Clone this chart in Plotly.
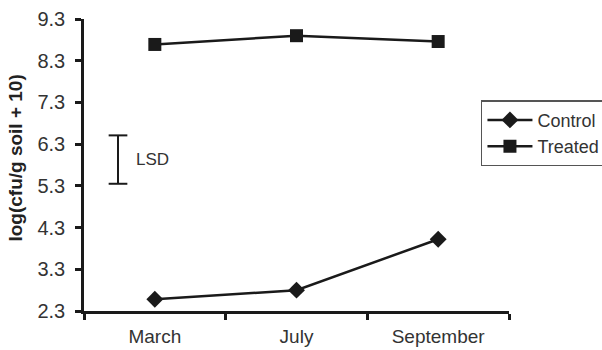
import plotly.graph_objects as go

months = ["March", "July", "September"]
control = [2.58, 2.80, 4.02]
treated = [8.69, 8.90, 8.76]
y_ticks = [2.3, 3.3, 4.3, 5.3, 6.3, 7.3, 8.3, 9.3]
lsd_low, lsd_high = 5.35, 6.51
y_title = "log(cfu/g soil + 10)"

FONT = "Liberation Sans, Arial, sans-serif"
INK = "#1a1a1a"

fig = go.Figure()
fig.add_trace(go.Scatter(
    x=months, y=control, name="Control", mode="lines+markers",
    line=dict(color=INK, width=2.5),
    marker=dict(symbol="diamond", size=13, color=INK),
))
fig.add_trace(go.Scatter(
    x=months, y=treated, name="Treated", mode="lines+markers",
    line=dict(color=INK, width=2.5),
    marker=dict(symbol="square", size=13, color=INK),
))

# LSD bar
lx = 0.08
cap = 0.022
for y0, y1, x0, x1 in [
    (lsd_low, lsd_high, lx, lx),
    (lsd_low, lsd_low, lx - cap, lx + cap),
    (lsd_high, lsd_high, lx - cap, lx + cap),
]:
    fig.add_shape(type="line", xref="paper", yref="y", x0=x0, x1=x1, y0=y0, y1=y1,
                  line=dict(color=INK, width=2))
fig.add_annotation(xref="paper", yref="y", x=0.118, y=(lsd_low + lsd_high) / 2,
                   text="LSD", showarrow=False, xanchor="left", yanchor="middle",
                   font=dict(family=FONT, size=17, color="#333"))

# y-axis title
fig.add_annotation(xref="paper", yref="paper", x=-0.161, y=0.524,
                   text=f"<b>{y_title}</b>", showarrow=False, textangle=-90,
                   xanchor="center", yanchor="middle",
                   font=dict(family=FONT, size=19, color="#222"))

fig.update_layout(
    width=602, height=350,
    paper_bgcolor="white", plot_bgcolor="white",
    margin=dict(l=84, r=93, t=19, b=39, autoexpand=False),
    font=dict(family=FONT, color="#333"),
    showlegend=True,
    legend=dict(
        x=0.934, y=0.722, xanchor="left", yanchor="top",
        bordercolor="#555", borderwidth=1.5, bgcolor="white",
        font=dict(family=FONT, size=18, color="#333"),
        itemwidth=45,
    ),
    xaxis=dict(
        type="category", range=[-0.5, 2.5], tickson="boundaries",
        showline=True, linecolor=INK, linewidth=2.5,
        ticks="outside", ticklen=6, tickwidth=2.5, tickcolor=INK,
        showgrid=False, zeroline=False, ticklabelstandoff=6,
        tickfont=dict(family=FONT, size=19, color="#333"),
    ),
    yaxis=dict(
        range=[2.3, 9.3], tickvals=y_ticks, ticktext=[f"{v:.1f}" for v in y_ticks],
        showline=True, linecolor=INK, linewidth=2.5,
        ticks="outside", ticklen=6, tickwidth=2.5, tickcolor=INK,
        showgrid=False, zeroline=False, ticklabelstandoff=6,
        tickfont=dict(family=FONT, size=20, color="#333"),
    ),
)

fig.write_html("out.html", config={"displayModeBar": False},
               post_script="document.body.style.margin='0px';")
